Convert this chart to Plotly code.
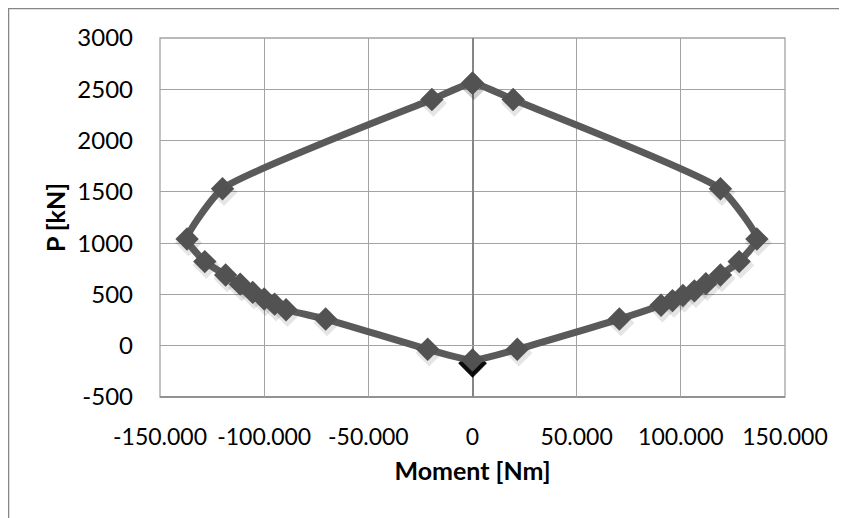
import plotly.graph_objects as go

# interaction diagram points, going round the loop (top -> left -> bottom -> right -> top)
moment = [0, -19500, -120000, -137000, -128500, -118500, -111500, -105500, -100000,
          -95000, -89500, -70500, -21500, 0, 21500, 70500, 90500, 96000, 101000,
          106500, 112000, 119000, 128000, 136500, 119000, 19500, 0]
axial = [2560, 2400, 1530, 1040, 820, 690, 600, 520, 455,
         405, 350, 260, -35, -140, -35, 260, 395, 440, 490,
         535, 605, 690, 820, 1040, 1530, 2400, 2560]

x_ticks = [-150000, -100000, -50000, 0, 50000, 100000, 150000]
x_labels = ["-150.000", "-100.000", "-50.000", "0", "50.000", "100.000", "150.000"]
y_ticks = [-500, 0, 500, 1000, 1500, 2000, 2500, 3000]
y_labels = ["-500", "0", "500", "1000", "1500", "2000", "2500", "3000"]

grid = "#a3a3a3"
axis = "#868686"
font = "Lato"

fig = go.Figure()

# soft marker shadows (Excel style)
fig.add_trace(go.Scatter(
    x=[m + 700 for m in moment], y=[p - 35 for p in axial],
    mode="markers",
    marker=dict(symbol="diamond", size=21, color="rgba(0,0,0,0.10)", line=dict(width=0)),
    hoverinfo="skip", showlegend=False
))
i_low = axial.index(min(axial))
fig.add_trace(go.Scatter(
    x=[moment[i_low]], y=[axial[i_low] - 32],
    mode="markers",
    marker=dict(symbol="diamond", size=22, color="rgba(0,0,0,0.95)", line=dict(width=0)),
    hoverinfo="skip", showlegend=False
))

fig.add_trace(go.Scatter(
    x=moment, y=axial,
    mode="lines+markers",
    line=dict(color="#5a5a5a", width=7, shape="spline", smoothing=0.5),
    marker=dict(symbol="diamond", size=18, color="#525252", line=dict(width=0)),
    showlegend=False
))

fig.update_layout(
    width=847, height=518,
    margin=dict(l=152, r=70, t=30, b=129),
    paper_bgcolor="white", plot_bgcolor="white",
    font=dict(family=font, size=24, color="black"),
    shapes=[
        # outer chart border
        dict(type="rect", xref="paper", yref="paper", x0=-0.2424, x1=1.3, y0=-0.5, y1=1.082,
             line=dict(color=axis, width=1.5), layer="below"),
        # plot frame
        dict(type="rect", xref="paper", yref="paper", x0=0, x1=1, y0=0, y1=1,
             line=dict(color=grid, width=1.3), layer="below"),
        dict(type="line", xref="paper", yref="paper", x0=0, x1=1, y0=0, y1=0,
             line=dict(color=axis, width=1.5), layer="below"),
    ],
)

fig.update_xaxes(
    range=[-150000, 150000], automargin=False,
    tickvals=x_ticks, ticktext=x_labels, tickfont=dict(size=23),
    showgrid=True, gridcolor=grid, gridwidth=1.3,
    zeroline=True, zerolinecolor=axis, zerolinewidth=1.5,
    showline=False, ticks="", ticklabelstandoff=24,
    title=dict(text="<b>Moment [Nm]</b>", font=dict(family=font, size=25), standoff=13),
)
fig.update_yaxes(
    range=[-500, 3000], automargin=False,
    tickvals=y_ticks, ticktext=y_labels,
    showgrid=True, gridcolor=grid, gridwidth=1.3,
    zeroline=True, zerolinecolor=grid, zerolinewidth=1.3,
    showline=False, ticks="", ticklabelstandoff=26,
    title=dict(text="<b>P [kN]</b>", font=dict(family=font, size=25), standoff=4),
)

fig.write_html("out.html")
